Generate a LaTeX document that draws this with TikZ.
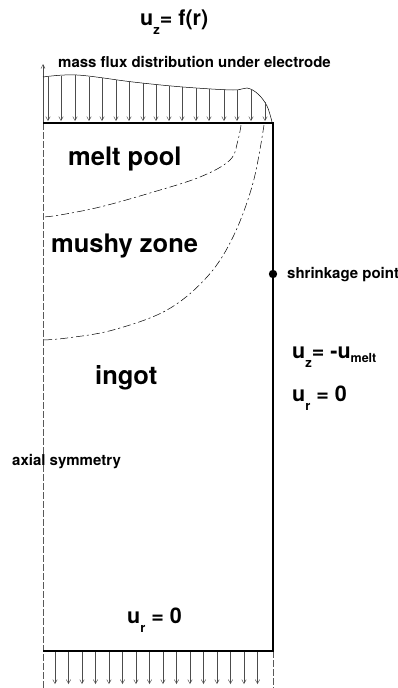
\documentclass[tikz,border=0pt]{standalone}
\usepackage{fontspec}
\setmainfont{TeX Gyre Heros}
\usetikzlibrary{arrows.meta}
\newcommand\lsub[1]{\raisebox{-0.42em}{\fontsize{13}{13}\selectfont #1}}
\newcommand\msub[1]{\raisebox{-0.2em}{\fontsize{12.5}{13}\selectfont #1}}
\tikzset{
  big/.style={font=\fontsize{25.5}{30}\selectfont\bfseries, inner sep=0pt},
  small/.style={font=\fontsize{15}{18}\selectfont\bfseries, inner sep=0pt},
  formula/.style={font=\fontsize{21.5}{24}\selectfont\bfseries, inner sep=0pt},
  wall/.style={line width=2.4pt},
  flux/.style={line width=0.45pt, black!70, -{Straight Barb[length=4pt,width=4.5pt]}},
  front/.style={line width=0.5pt, dash pattern=on 8pt off 3pt on 2pt off 3pt},
  axis/.style={line width=0.6pt, black!65, dash pattern=on 7pt off 2pt},
}
\begin{document}
\begin{tikzpicture}[x=1pt,y=-1pt]
\useasboundingbox (0,0) rectangle (398,688);
% corners
\coordinate (TL) at (43,123);
\coordinate (TR) at (273,123);
\coordinate (BR) at (273,651);
\coordinate (BL) at (43,651);
\coordinate (axisTop) at (43,64);
\coordinate (axisBot) at (43,688);
\coordinate (rightBot) at (273,688);
% axis
\draw[line width=0.5pt, black!70, -{Straight Barb[length=4pt,width=4pt]}] (TL) -- (axisTop);
\draw[axis] (TL) -- (axisBot);
\draw[axis] (BR) -- (rightBot);
% flux profile
\draw[line width=0.5pt] plot[smooth, tension=0.6] coordinates {(43,77) (77,75) (133,82) (183,87) (233,90) (247,88) (258,94) (267,106) (272,122)};
\foreach \x/\y in {48/76.5, 61/75.8, 75/75.2, 89/76.6, 102/78, 116/79.8, 129/81.3, 143/83, 156/84.4, 169/85.7, 182/87, 196/88, 209/88.8, 224/89.6, 237/89.6, 251/89, 265/102}
  \draw[flux] (\x,\y) -- (\x,121);
% bottom outflow
\foreach \x in {55,68.5,82,95.5,109,122.5,136,149.5,163,176.5,190,203.5,217,230.5,244,257.5}
  \draw[flux] (\x,652) -- (\x,684);
% walls
\draw[wall] (TL) -- (TR) -- (BR) -- (BL);
% fronts
\draw[front] plot[smooth, tension=0.6] coordinates {(241,125) (238,140) (230,160) (200,177) (150,193) (100,207) (60,215) (43,217)};
\draw[front] plot[smooth, tension=0.6] coordinates {(264,125) (253,183) (233,237) (207,277) (167,310) (113,330) (67,338) (43,340)};
% shrinkage point
\fill (273,274) circle (4.2pt) coordinate (sp);
\node[small, anchor=base west] (splabel) at (287,278) {shrinkage point};
% labels
\node[formula, anchor=base west] (title) at (140,25) {u\lsub{z}= f(r)};
\node[small, anchor=base west] (fluxlabel) at (58,67) {mass flux distribution under electrode};
\node[big, anchor=base west] (melt) at (68,165) {melt pool};
\node[big, anchor=base west] (mushy) at (51,252) {mushy zone};
\node[big, anchor=base west] (ingot) at (95,384) {ingot};
\node[small, anchor=base west] (axial) at (12,465) {axial symmetry};
\node[formula, anchor=base west] (uz) at (292,358) {u\lsub{z}= -u\msub{melt}};
\node[formula, anchor=base west] (ur) at (292,401) {u\lsub{r} = 0};
\node[formula, anchor=base west] (urb) at (127,623) {u\lsub{r} = 0};
\end{tikzpicture}
\end{document}
